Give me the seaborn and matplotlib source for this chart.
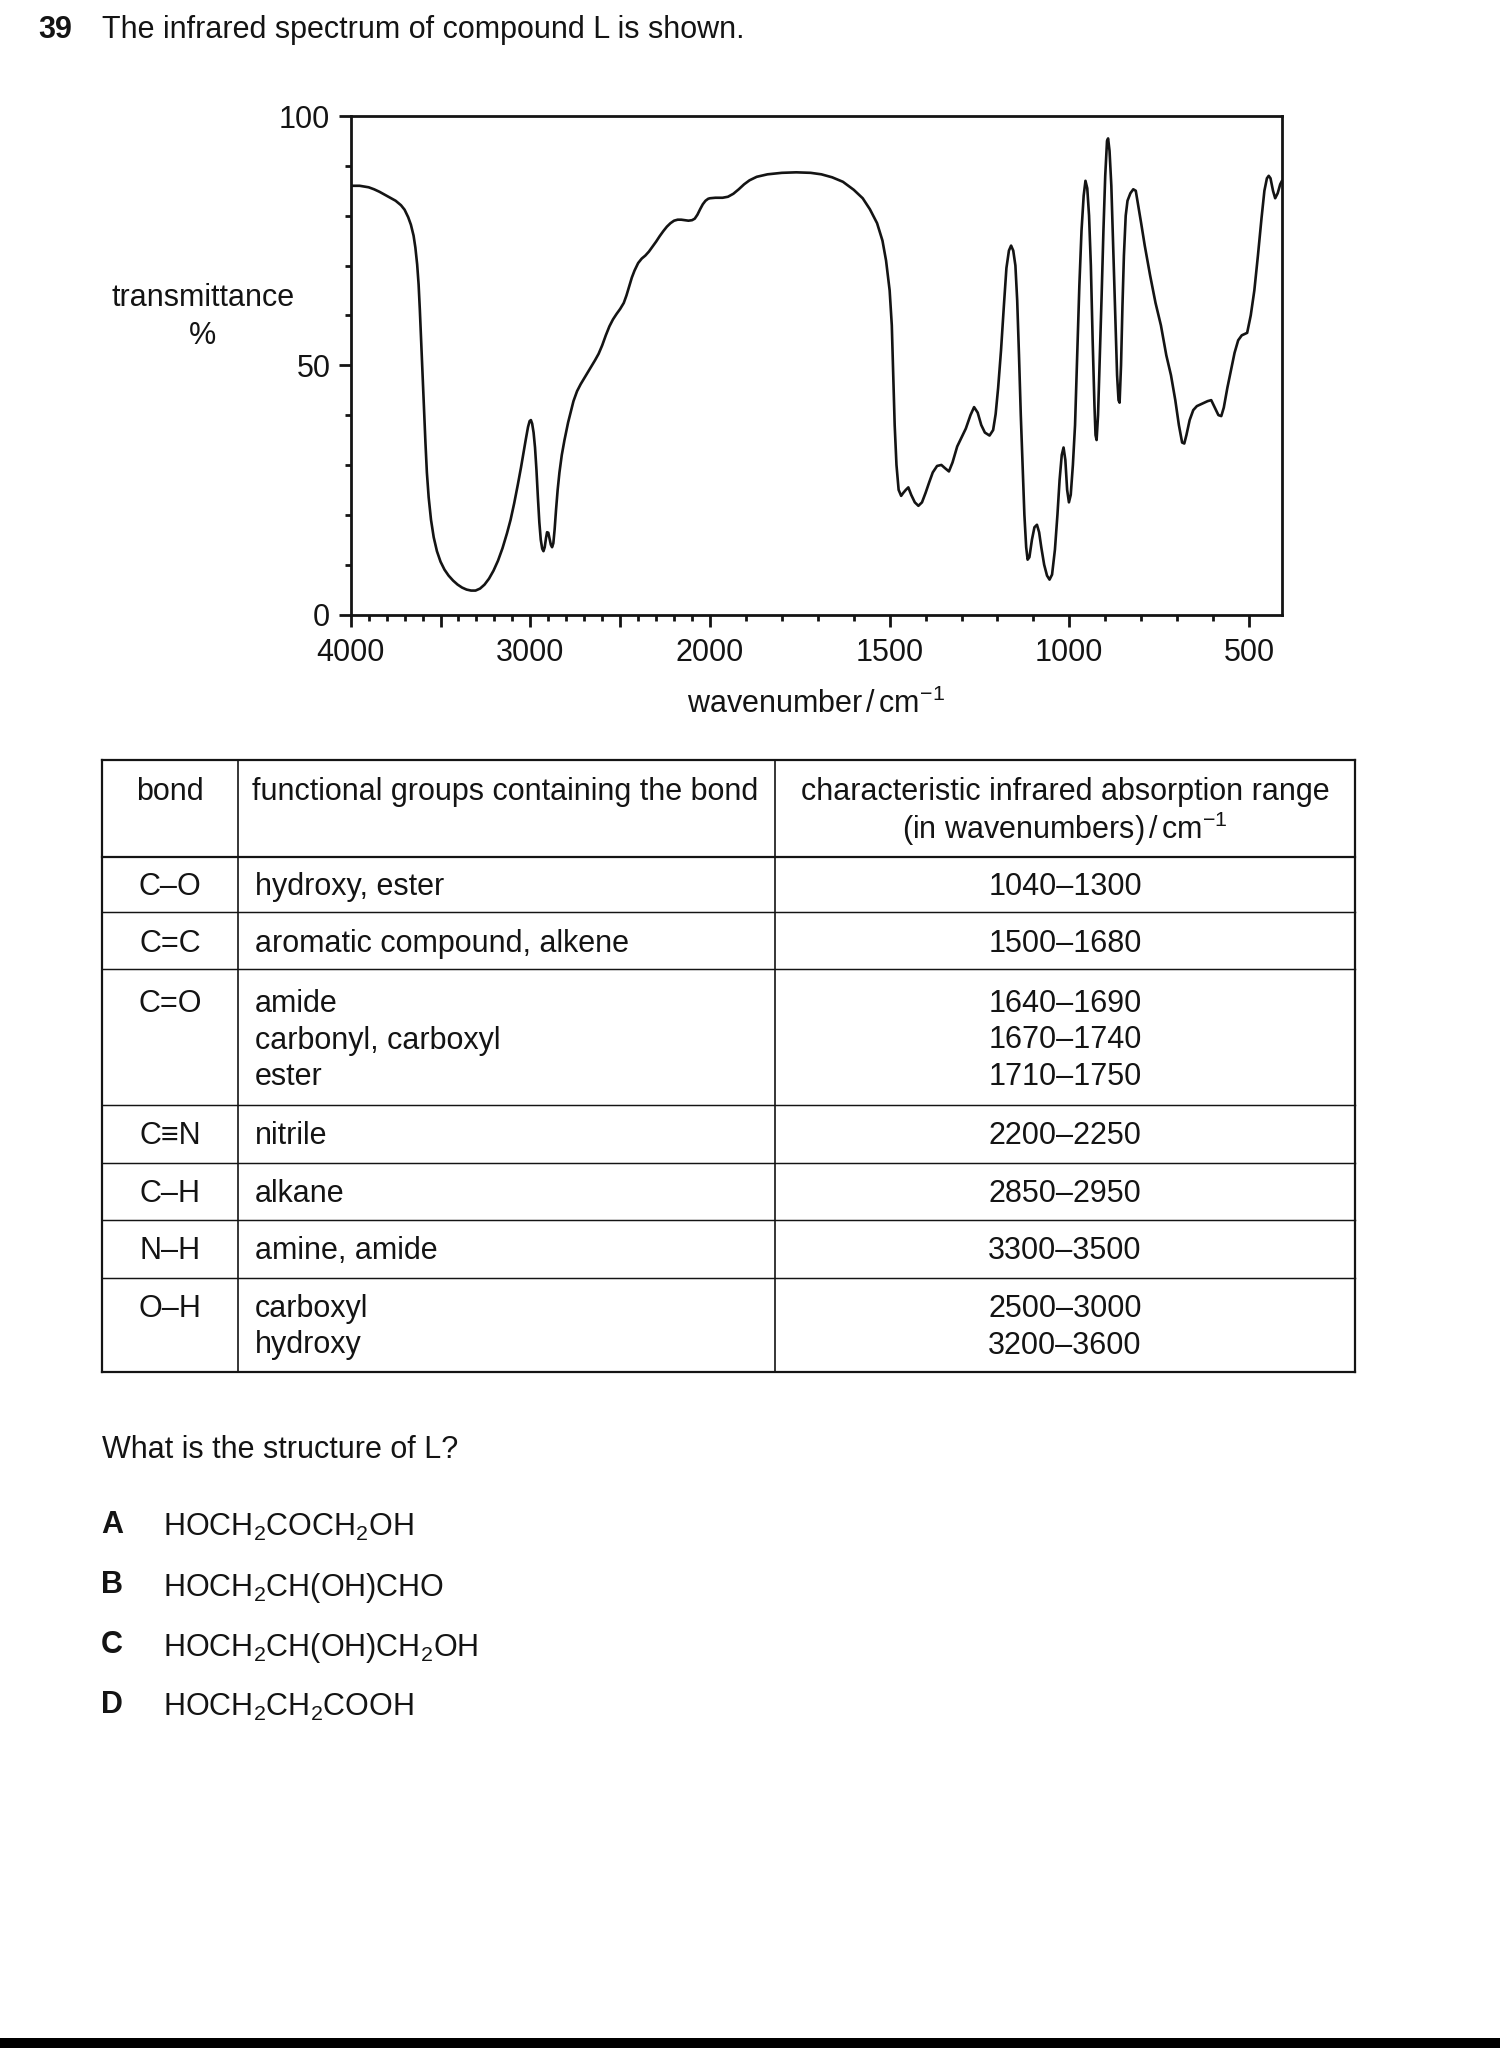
import numpy as np
import pandas as pd
import matplotlib
matplotlib.use("Agg")
import matplotlib.pyplot as plt
from matplotlib.patches import Rectangle
import seaborn as sns

# ---------------- data ----------------
wavenumber = [
    4000, 3950, 3900, 3870, 3840, 3810, 3780, 3750, 3720, 3700, 3680, 3665, 3650,
    3640, 3630, 3622, 3615, 3608, 3600, 3592, 3584, 3576, 3566, 3553, 3538, 3520,
    3500, 3478, 3455, 3430, 3405, 3380, 3355, 3330, 3305, 3280, 3255, 3230, 3205,
    3180, 3155, 3130, 3110, 3090, 3070, 3052, 3038, 3025, 3013, 3004,
    2997, 2990, 2982, 2974, 2966, 2958, 2950, 2942, 2934, 2927, 2920, 2913,
    2907, 2900, 2893, 2886, 2879, 2872, 2865, 2857, 2848, 2838, 2825, 2810, 2790,
    2760, 2740, 2720, 2700, 2680, 2660, 2640, 2620, 2600, 2580, 2560, 2540, 2520,
    2500, 2480, 2465, 2450, 2435, 2420, 2400, 2380, 2360, 2340, 2320, 2300, 2280,
    2260, 2240, 2220, 2200, 2180, 2160, 2140, 2120, 2100, 2085, 2070, 2055, 2040,
    2025, 2010, 2000,
    1985, 1965, 1950, 1935, 1920, 1905, 1890, 1870, 1840, 1800, 1760, 1720, 1690,
    1660, 1630, 1600, 1575, 1555, 1535, 1520, 1510, 1500, 1494, 1490, 1486, 1481,
    1475, 1468, 1462, 1455, 1448, 1440, 1430, 1420, 1410, 1400, 1390, 1380, 1368,
    1356, 1345, 1335, 1325, 1312, 1300, 1288, 1275, 1265, 1255, 1245, 1235, 1222,
    1212, 1205, 1198, 1190, 1182, 1175, 1168, 1162, 1156, 1150, 1145, 1140, 1135,
    1130, 1125, 1120, 1116, 1111, 1104, 1097, 1090, 1084, 1078, 1070, 1062, 1055,
    1048, 1040, 1033, 1027, 1021, 1016, 1011, 1006, 1001, 996, 990, 984, 978, 972,
    966, 960, 955, 950, 945, 940, 935, 930, 927, 924, 920, 915, 910, 905, 900, 895,
    892, 888, 883, 878, 872, 867, 863, 860, 856, 852, 848, 843, 838, 830, 822, 815,
    808, 800, 790, 775, 760, 745, 730, 717, 705, 695, 686, 680, 674, 665, 655, 645,
    630, 615, 605, 595, 585, 577, 570, 560, 550, 540, 530, 520, 505, 495, 485, 475,
    465, 457, 450, 445, 440, 433, 427, 420, 413, 408,
]
transmittance = [
    86.0, 86.0, 85.7, 85.3, 84.8, 84.2, 83.6, 83.0, 82.1, 81.2, 79.7, 78.2, 76.0,
    73.6, 70.2, 66.2, 61.0, 55.0, 48.0, 41.0, 34.5, 28.5, 23.5, 19.0, 15.5, 12.7,
    10.6, 9.0, 7.8, 6.8, 6.0, 5.4, 5.0, 4.8, 4.8, 5.2, 6.0, 7.2, 8.8,
    10.8, 13.3, 16.3, 19.0, 22.3, 26.0, 29.5, 32.5, 35.2, 37.6, 38.8,
    39.0, 38.3, 36.5, 33.5, 29.0, 23.5, 18.5, 15.0, 13.2, 12.7, 13.5, 15.3,
    16.5, 16.4, 15.2, 14.0, 13.5, 14.3, 17.0, 21.0, 25.0, 28.5, 32.0, 35.0, 38.5,
    42.8, 44.8, 46.2, 47.4, 48.6, 49.8, 51.0, 52.3, 54.0, 56.0, 57.8, 59.2, 60.3,
    61.3, 62.5, 64.0, 65.8, 67.6, 69.0, 70.5, 71.4, 72.0, 72.8, 73.8, 74.8, 75.9,
    76.9, 77.8, 78.5, 79.0, 79.2, 79.2, 79.1, 79.0, 79.1, 79.4, 80.2, 81.3, 82.3,
    83.0, 83.4, 83.5,
    83.6, 83.6, 83.8, 84.4, 85.3, 86.3, 87.1, 87.8, 88.3, 88.6, 88.7, 88.6, 88.3,
    87.7, 86.8, 85.2, 83.5, 81.3, 78.5, 75.0, 71.0, 65.0, 58.0, 48.0, 38.0, 30.0,
    25.0, 23.8, 24.4, 25.0, 25.5, 24.0, 22.5, 21.8, 22.5, 24.4, 26.5, 28.5, 29.8,
    30.0, 29.3, 28.7, 30.5, 33.7, 35.5, 37.3, 40.0, 41.6, 40.5, 38.0, 36.5, 35.9,
    37.0, 40.2, 45.5, 53.0, 62.0, 69.5, 73.0, 74.0, 73.0, 70.0, 63.0, 52.0, 40.0,
    30.0, 20.0, 13.5, 11.0, 11.5, 15.0, 17.5, 18.0, 16.5, 13.5, 10.0, 7.8, 7.0,
    8.0, 13.0, 20.0, 27.0, 32.0, 33.5, 31.0, 25.0, 22.5, 24.0, 30.0, 38.0, 52.0, 66.0,
    77.0, 84.0, 87.0, 85.5, 80.0, 70.0, 55.0, 42.0, 36.0, 35.0, 40.0, 52.0, 64.0, 77.0, 88.0, 95.0,
    95.5, 93.0, 86.0, 74.0, 60.0, 48.0, 43.0, 42.5, 50.0, 62.0, 72.0, 80.0, 83.0, 84.5, 85.3, 85.0,
    82.0, 78.5, 74.0, 68.0, 62.5, 58.0, 52.0, 48.0, 43.0, 38.0, 34.5, 34.3, 36.0, 39.0, 41.0, 41.8,
    42.3, 42.8, 43.0, 41.5, 40.0, 39.8, 41.5, 45.5, 49.0, 52.5, 55.0, 56.0, 56.5, 60.0, 65.0, 72.0,
    79.5, 85.0, 87.5, 88.0, 87.5, 85.0, 83.5, 84.5, 86.3, 87.0,
]

x_major_ticks = [4000, 3500, 3000, 2500, 2000, 1500, 1000, 500]
x_major_labels = ["4000", "", "3000", "", "2000", "1500", "1000", "500"]
x_minor_ticks = [w for w in range(500, 4000, 100) if w not in x_major_ticks]
y_major_ticks = [0, 50, 100]
y_minor_ticks = [10, 20, 30, 40, 60, 70, 80, 90]

bond_labels = ["C–O", "C=C", "C=O", "C≡N", "C–H", "N–H", "O–H"]
group_labels = [["hydroxy, ester"], ["aromatic compound, alkene"],
                ["amide", "carbonyl, carboxyl", "ester"], ["nitrile"], ["alkane"],
                ["amine, amide"], ["carboxyl", "hydroxy"]]
range_labels = [["1040–1300"], ["1500–1680"], ["1640–1690", "1670–1740", "1710–1750"],
                ["2200–2250"], ["2850–2950"], ["3300–3500"], ["2500–3000", "3200–3600"]]
header_labels = ["bond", "functional groups containing the bond",
                 ["characteristic infrared absorption range",
                  r"(in wavenumbers)$\,/\,$cm$^{-1}$"]]
option_letters = ["A", "B", "C", "D"]
option_formulas = [r"HOCH$_2$COCH$_2$OH", r"HOCH$_2$CH(OH)CHO",
                   r"HOCH$_2$CH(OH)CH$_2$OH", r"HOCH$_2$CH$_2$COOH"]

# ---------------- style ----------------
sns.set_style("ticks")
plt.rcParams["font.family"] = ["Liberation Sans", "DejaVu Sans"]
plt.rcParams["mathtext.fontset"] = "custom"
plt.rcParams["mathtext.rm"] = "Liberation Sans"
plt.rcParams["mathtext.it"] = "Liberation Sans:italic"
plt.rcParams["mathtext.bf"] = "Liberation Sans:bold"
INK = "#141414"
FS = 22

W, H = 1500, 2048
fig = plt.figure(figsize=(W / 100, H / 100), dpi=100)
fig.patch.set_facecolor("white")

# overlay axes in pixel coordinates for text and the table
ov = fig.add_axes([0, 0, 1, 1])
ov.set_xlim(0, W)
ov.set_ylim(H, 0)
ov.set_axis_off()
ov.patch.set_visible(False)

PX = 0.72  # points per pixel

# ---------------- spectrum ----------------
left_px, right_px, top_px, bot_px = 350.7, 1282.0, 116.0, 614.5
ax = fig.add_axes([left_px / W, 1 - bot_px / H, (right_px - left_px) / W, (bot_px - top_px) / H])
ax.set_facecolor("white")

df = pd.DataFrame({"wavenumber": wavenumber, "transmittance": transmittance})
sns.lineplot(data=df, x="wavenumber", y="transmittance", ax=ax, sort=False,
             estimator=None, color=INK, linewidth=1.9)
for ln in ax.get_lines():
    ln.set_solid_joinstyle("round")
    ln.set_solid_capstyle("round")


def fwd(x):
    x = np.asarray(x, dtype=float)
    return np.where(x >= 2000, 2000 + (x - 2000) * 0.5, x)


def inv(u):
    u = np.asarray(u, dtype=float)
    return np.where(u >= 2000, 2000 + (u - 2000) * 2.0, u)


ax.set_xscale("function", functions=(fwd, inv))
ax.set_xlim(4000, 408)
ax.set_ylim(0, 100)
ax.set_xticks(x_major_ticks)
ax.set_xticklabels(x_major_labels)
ax.set_xticks(x_minor_ticks, minor=True)
ax.set_yticks(y_major_ticks)
ax.set_yticklabels([str(v) for v in y_major_ticks])
ax.set_yticks(y_minor_ticks, minor=True)
ax.set_xlabel("")
ax.set_ylabel("")
for s in ax.spines.values():
    s.set_visible(True)
    s.set_linewidth(2.0)
    s.set_color(INK)
ax.tick_params(axis="both", which="major", direction="out", length=12 * PX, width=2.0,
               color=INK, labelsize=FS, labelcolor=INK)
ax.tick_params(axis="both", which="minor", direction="out", length=6 * PX, width=2.0,
               color=INK)
ax.tick_params(axis="x", which="major", pad=8)
ax.tick_params(axis="y", which="major", pad=6)
ax.tick_params(top=False, right=False, which="both")

# axis titles
ov.text(203, 298, "transmittance", ha="center", va="center", fontsize=FS, color=INK)
ov.text(203, 336, "%", ha="center", va="center", fontsize=FS, color=INK)
ov.text(816, 713, r"wavenumber$\,/\,$cm$^{-1}$", ha="center", va="baseline",
        fontsize=FS, color=INK)

# question heading
ov.text(38, 30, "39", ha="left", va="center", fontsize=FS, fontweight="bold", color=INK)
ov.text(102, 30, "The infrared spectrum of compound L is shown.", ha="left", va="center",
        fontsize=FS, color=INK)

# ---------------- table ----------------
tx0, tx1, tx2, tx3 = 102, 238, 775, 1355
row_lines = [760, 857, 912, 969, 1105, 1163, 1220, 1278, 1372]
thick, thin, col_lw = 1.6, 1.05, 1.2
for i, y in enumerate(row_lines):
    lw = thick if i in (0, 1, len(row_lines) - 1) else thin
    ov.plot([tx0, tx3], [y, y], color=INK, lw=lw, solid_capstyle="projecting")
for x in (tx0, tx1, tx2, tx3):
    lw = thick if x in (tx0, tx3) else col_lw
    ov.plot([x, x], [row_lines[0], row_lines[-1]], color=INK, lw=lw, solid_capstyle="projecting")

c1 = (tx0 + tx1) / 2
c3 = (tx2 + tx3) / 2
ov.text(c1, 792, header_labels[0], ha="center", va="center", fontsize=FS, color=INK)
ov.text(252, 792, header_labels[1], ha="left", va="center", fontsize=FS, color=INK)
ov.text(c3, 792, header_labels[2][0], ha="center", va="center", fontsize=FS, color=INK)
ov.text(c3, 829, header_labels[2][1], ha="center", va="center", fontsize=FS, color=INK)

line_gap = 36.5
row_extra = [0, 2, 5, 1, 1, 1, 1]
for i in range(len(bond_labels)):
    y_first = row_lines[i + 1] + 30 + row_extra[i]
    ov.text(c1, y_first, bond_labels[i], ha="center", va="center", fontsize=FS, color=INK)
    for j, g in enumerate(group_labels[i]):
        ov.text(255, y_first + j * line_gap, g, ha="left", va="center", fontsize=FS, color=INK)
    for j, r in enumerate(range_labels[i]):
        ov.text(c3, y_first + j * line_gap, r, ha="center", va="center", fontsize=FS, color=INK)

# ---------------- question ----------------
ov.text(102, 1450, "What is the structure of L?", ha="left", va="center", fontsize=FS, color=INK)
opt_y = [1525, 1585, 1645, 1705]
for letter, formula, y in zip(option_letters, option_formulas, opt_y):
    ov.text(101, y, letter, ha="left", va="center", fontsize=FS, fontweight="bold", color=INK)
    ov.text(163, y - 1.5, formula, ha="left", va="center_baseline", fontsize=FS, color=INK)

# footer bar
ov.add_patch(Rectangle((0, 2038), W, 10, color="black", lw=0))

fig.savefig("out.png", dpi=100, facecolor="white")
